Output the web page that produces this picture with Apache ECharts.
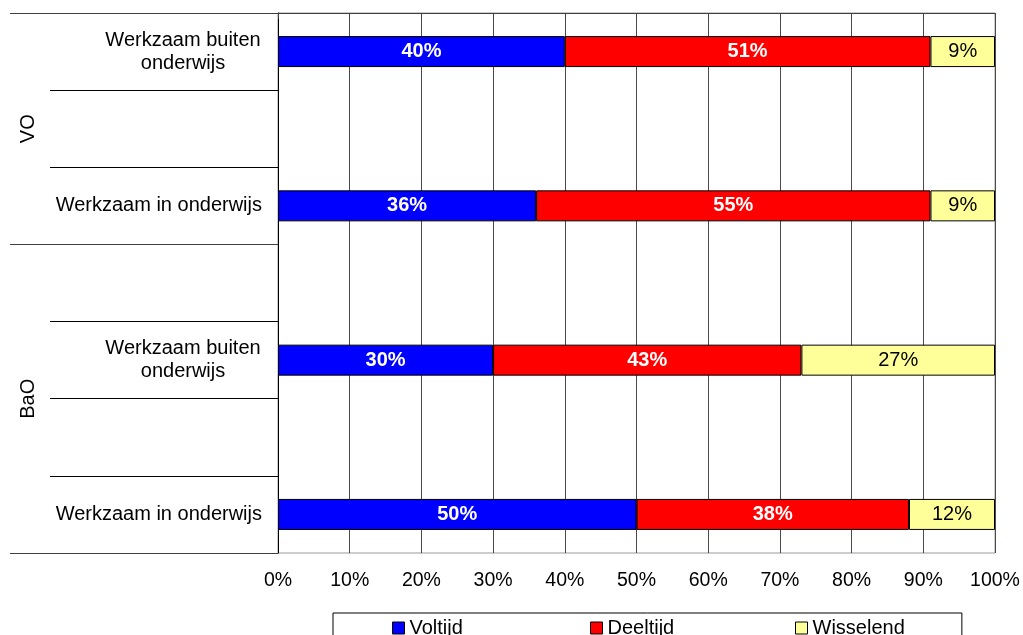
<!DOCTYPE html>
<html>
<head>
<meta charset="utf-8">
<script src="https://cdn.jsdelivr.net/npm/echarts@6/dist/echarts.min.js"></script>
<style>
  html, body { margin: 0; padding: 0; background: #fff; }
  #chart { width: 1023px; height: 635px; }
</style>
</head>
<body>
<div id="chart"></div>
<script>
// Category slots from top to bottom; empty strings are spacer rows between bars.
const categories = [
  'Werkzaam buiten onderwijs', '', 'Werkzaam in onderwijs', '',
  'Werkzaam buiten onderwijs', '', 'Werkzaam in onderwijs'
];
// Outer grouping labels and where they sit on the 0..7 slot scale.
const groupLabels = ['VO', 'BaO'];
const groupCenters = [1.5, 5];
const groupBounds = [0, 3, 7];

// Shares (%) per slot; null for spacer rows.
const voltijd   = [40, null, 36, null, 30, null, 50];
const deeltijd  = [51, null, 55, null, 43, null, 38];
const wisselend = [9,  null, 9,  null, 27, null, 12];

const seriesNames = ['Voltijd', 'Deeltijd', 'Wisselend'];
const xTicks = [0, 10, 20, 30, 40, 50, 60, 70, 80, 90, 100];

const FONT = '"Liberation Sans", Arial, sans-serif';

const chart = echarts.init(document.getElementById('chart'), null, { renderer: 'canvas' });

function barSeries(name, values, color, labelColor, bold) {
  return {
    name: name,
    type: 'bar',
    stack: 'total',
    barWidth: 31,
    data: values,
    itemStyle: { color: color, borderColor: '#000', borderWidth: 1 },
    label: {
      show: true,
      position: 'inside',
      formatter: p => p.value + '%',
      color: labelColor,
      fontFamily: FONT,
      fontSize: 20,
      fontWeight: bold ? 'bold' : 'normal'
    },
    emphasis: { disabled: true },
    animation: false
  };
}

// One legend per entry so the items spread across the framed strip;
// the first one carries the frame via its padding and border.
function legendEntry(name, left, top, framed) {
  return {
    left: left, top: top,
    orient: 'horizontal',
    itemWidth: 12, itemHeight: 12,
    icon: 'rect',
    borderColor: framed ? '#000' : 'transparent',
    borderWidth: framed ? 1 : 0,
    padding: framed ? [5, 499, 6, 59] : 0,
    itemStyle: { borderColor: '#000', borderWidth: 1 },
    textStyle: { color: '#000', fontFamily: FONT, fontSize: 20 },
    data: [name],
    selectedMode: false
  };
}

chart.setOption({
  animation: false,
  backgroundColor: '#fff',
  grid: {
    left: 278, right: 28, top: 13, bottom: 82,
    show: true, borderColor: '#9a9a9a', borderWidth: 1
  },
  xAxis: {
    type: 'value',
    min: xTicks[0], max: xTicks[xTicks.length - 1], interval: 10,
    axisLine: { show: true, lineStyle: { color: '#404040', width: 1 } },
    axisTick: { show: true, length: 6, lineStyle: { color: '#404040' } },
    splitLine: { show: true, lineStyle: { color: '#4a4a4a', width: 1 } },
    axisLabel: {
      margin: 18, color: '#000', fontFamily: FONT, fontSize: 19.5,
      formatter: v => v + '%'
    }
  },
  yAxis: [
    {
      type: 'category',
      inverse: true,
      data: categories,
      axisLine: { show: true, lineStyle: { color: '#000', width: 1 } },
      axisTick: { show: true, length: 228, lineStyle: { color: '#000' } },
      axisLabel: {
        margin: 16, color: '#000', fontFamily: FONT, fontSize: 20,
        align: 'right', interval: 0,
        formatter: v => {
          if (v === 'Werkzaam buiten onderwijs') return '{c|Werkzaam buiten\nonderwijs}';
          return v;
        },
        rich: {
          c: { width: 158, align: 'center', fontFamily: FONT, fontSize: 20, lineHeight: 23, color: '#000' }
        }
      }
    },
    {
      type: 'value',
      position: 'left',
      inverse: true,
      min: 0, max: 7,
      axisLine: { show: false },
      splitLine: { show: false },
      axisTick: {
        show: true, length: 268, customValues: groupBounds,
        lineStyle: { color: '#404040' }
      },
      axisLabel: {
        show: true, customValues: groupCenters, rotate: 90, margin: 240,
        color: '#000', fontFamily: FONT, fontSize: 20,
        formatter: v => groupLabels[groupCenters.indexOf(v)] || ''
      }
    }
  ],
  legend: [
    legendEntry(seriesNames[0], 333, 613, true),
    legendEntry(seriesNames[1], 590, 618, false),
    legendEntry(seriesNames[2], 795, 618, false)
  ],
  series: [
    barSeries(seriesNames[0], voltijd, '#0000ff', '#fff', true),
    barSeries(seriesNames[1], deeltijd, '#ff0000', '#fff', true),
    barSeries(seriesNames[2], wisselend, '#ffff99', '#000', false)
  ]
});
</script>
</body>
</html>
